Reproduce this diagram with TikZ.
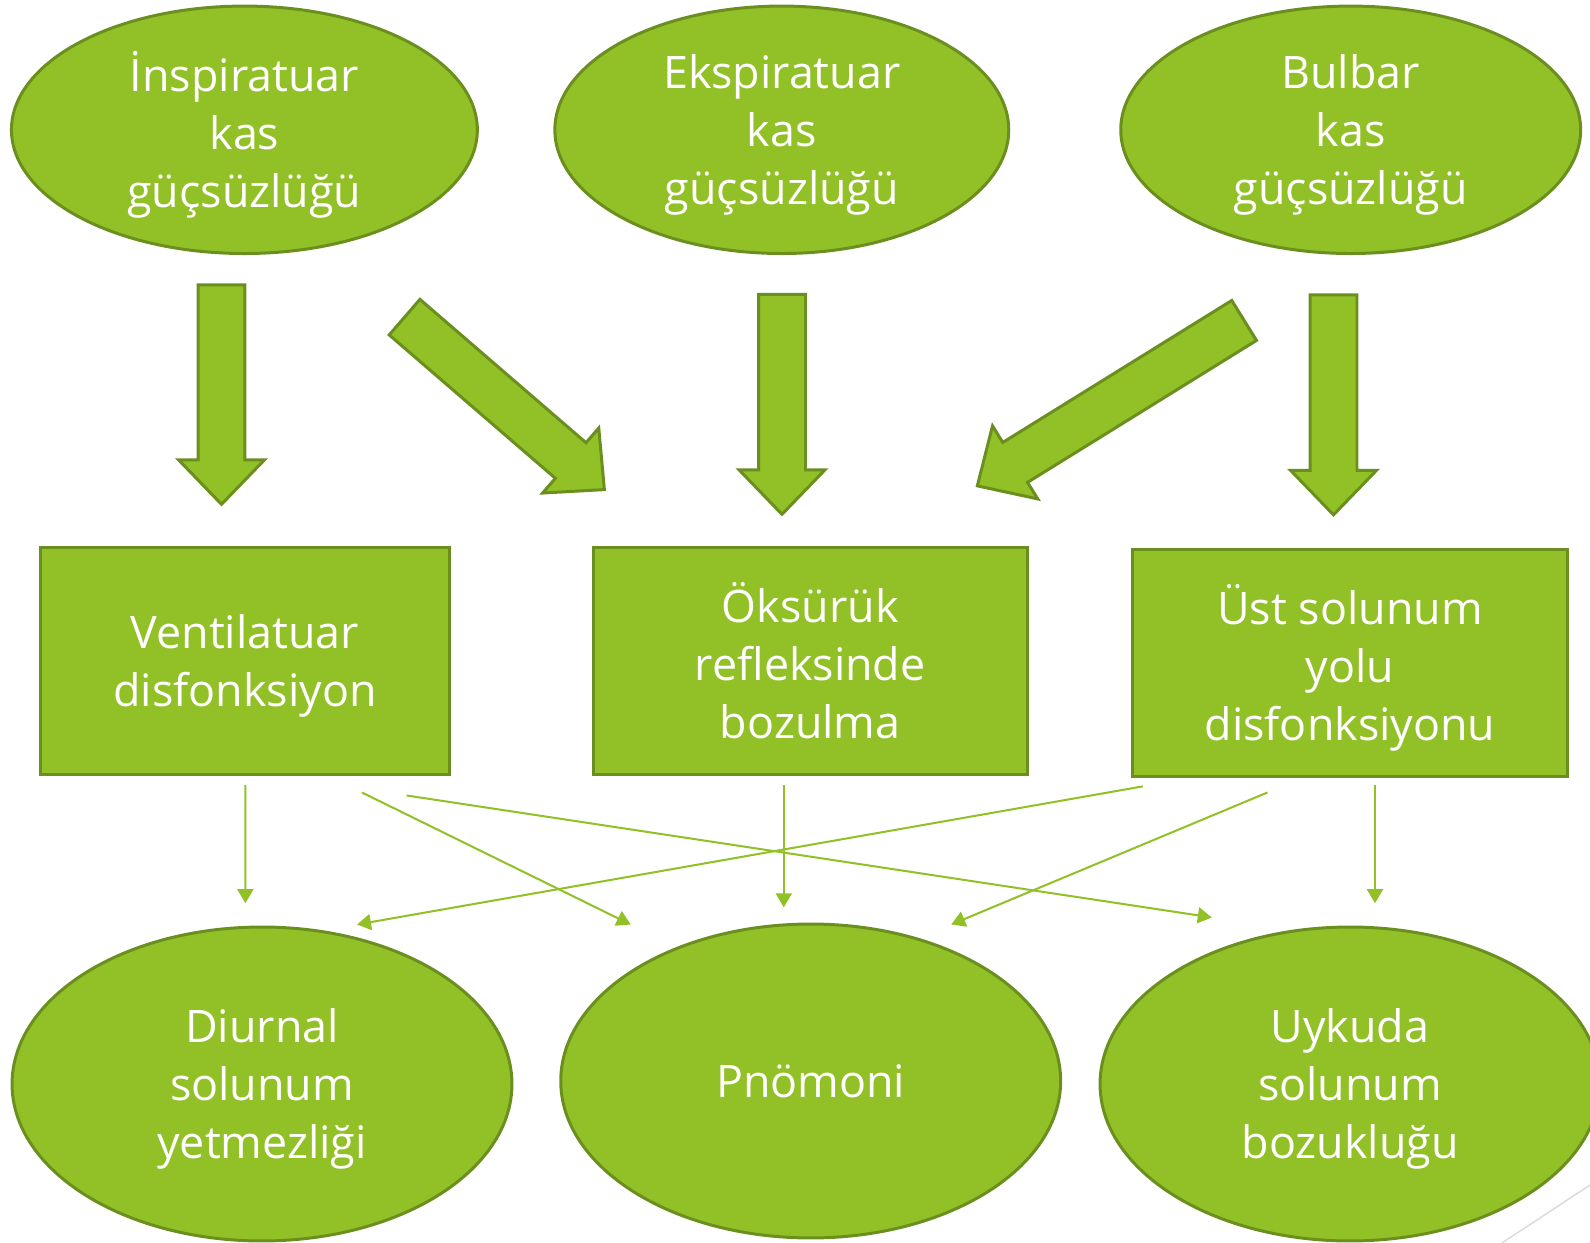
\documentclass[tikz,border=0pt]{standalone}
\usepackage{fontspec}
\setmainfont{Open Sans}
\usetikzlibrary{shapes.geometric,shapes.arrows,arrows.meta}
\definecolor{leaf}{RGB}{146,192,39}
\definecolor{leafdark}{RGB}{106,143,30}
\definecolor{decor}{RGB}{217,217,217}

\begin{document}
\begin{tikzpicture}[
    x=0.02cm, y=-0.02cm,
    font=\fontsize{25.5}{33}\selectfont,
    cause/.style={
        ellipse,
        draw=leafdark,
        line width=1.7pt,
        fill=leaf,
        text=white,
        inner sep=0pt,
        minimum height=4.95cm,
        align=center,
        text depth=0.5pt
    },
    effect/.style={
        cause,
        minimum width=10cm,
        minimum height=6.28cm
    },
    problem/.style={
        rectangle,
        draw=leafdark,
        line width=1.7pt,
        fill=leaf,
        text=white,
        inner sep=0pt,
        minimum height=4.54cm,
        align=center,
        text depth=0.5pt
    },
    bigarrow/.style={
        single arrow,
        draw=leafdark,
        line width=1.7pt,
        fill=leaf,
        inner xsep=0pt,
        inner ysep=0.44cm,
        minimum width=0pt,
        single arrow head extend=0.39cm,
        single arrow tip angle=88,
        anchor=tip
    },
    link/.style={
        draw=leaf,
        line width=1.15pt,
        -{Triangle[length=0.28cm,width=0.32cm]}
    }
]
\useasboundingbox (0,0) rectangle (1590,1243);

% decoration in the corner
\draw[decor, line width=0.8pt] (1590,1185) -- (1502,1243);

% top row: causes
\node[cause, minimum width=9.32cm] (insp) at (244.4,129.8)
{İnspiratuar\\kas\\güçsüzlüğü};
\node[cause, minimum width=9.08cm] (eksp) at (781.8,129.8)
{Ekspiratuar\\kas\\güçsüzlüğü};
\node[cause, minimum width=9.2cm] (bulb) at (1350.7,129.8)
{Bulbar\\kas\\güçsüzlüğü};

% block arrows (placed by their tips)
\node[bigarrow, minimum height=4.39cm, rotate=-90] (a1) at (221.5,506.5) {};
\node[bigarrow, minimum height=5.28cm, rotate=-40.8] (a2) at (606,491) {};
\node[bigarrow, minimum height=4.4cm, rotate=-90] (a3) at (782,516.5) {};
\node[bigarrow, minimum height=6.28cm, rotate=-148.2] (a4) at (975.5,487) {};
\node[bigarrow, minimum height=4.4cm, rotate=-90] (a5) at (1333.5,517) {};

% middle row
\node[problem, minimum width=8.17cm] (vent) at (244.9,661)
{Ventilatuar\\disfonksiyon};
\node[problem, minimum width=8.68cm] (oks) at (810.2,661)
{Öksürük\\refleksinde\\bozulma};
\node[problem, minimum width=8.69cm] (ust) at (1350,663)
{Üst solunum\\yolu\\disfonksiyonu};

% bottom row: results
\node[effect] (diur) at (262,1084)
{Diurnal\\solunum\\yetmezliği};
\node[effect] (pnom) at (810.7,1081)
{Pnömoni};
\node[effect] (uyku) at (1350,1084)
{Uykuda\\solunum\\bozukluğu};

% thin links
\draw[link] ([shift={(0.5,9.2)}]vent.south) -- ([shift={(-16.6,-22.3)}]diur.north);
\draw[link] ([shift={(117,16.5)}]vent.south) -- ([shift={(-180,2)}]pnom.north);
\draw[link] ([shift={(161.7,19.5)}]vent.south) -- ([shift={(-138.2,-8.1)}]uyku.north);
\draw[link] ([shift={(-26.4,9.3)}]oks.south) -- ([shift={(-26.9,-15.2)}]pnom.north);
\draw[link] ([shift={(-207.2,8.4)}]ust.south) -- ([shift={(95,-1)}]diur.north);
\draw[link] ([shift={(-82.5,14.5)}]ust.south) -- ([shift={(140.5,2)}]pnom.north);
\draw[link] ([shift={(25,7.3)}]ust.south) -- ([shift={(25,-22.3)}]uyku.north);

\end{tikzpicture}
\end{document}
